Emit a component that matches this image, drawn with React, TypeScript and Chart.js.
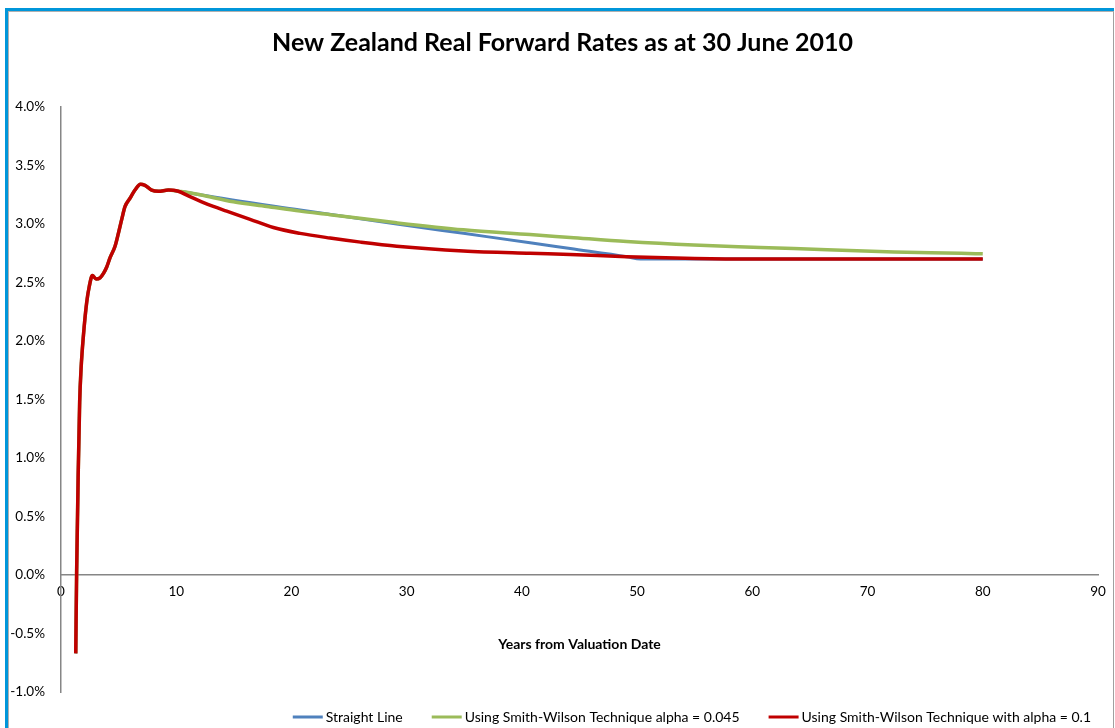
import { useEffect, useRef } from 'react';
import { Chart, registerables } from 'chart.js';

Chart.register(...registerables);

// Short end of the curve (years, % p.a.), common to all three methods
const shortEndYears = [1.28, 1.36, 1.5, 1.62, 1.74, 1.94, 2.23, 2.46, 2.72, 3.05, 3.39, 3.7, 3.96, 4.25, 4.69, 4.98, 5.27, 5.56, 5.99, 6.42, 6.9, 7.29, 7.87, 8.45, 9.32, 10.18];
const shortEndRates = [-0.67, 0.05, 0.9, 1.48, 1.76, 2.04, 2.33, 2.47, 2.56, 2.53, 2.54, 2.58, 2.63, 2.71, 2.81, 2.92, 3.04, 3.15, 3.22, 3.29, 3.34, 3.33, 3.29, 3.28, 3.29, 3.28];

// Straight line extrapolation to the ultimate forward rate
const straightYears = [11.0, 12.07, 20.75, 29.14, 34.92, 40.71, 44.2, 49.1, 50.3, 60, 70, 80];
const straightRates = [3.27, 3.25, 3.12, 3.0, 2.92, 2.84, 2.79, 2.72, 2.7, 2.7, 2.7, 2.7];

// Smith-Wilson, alpha = 0.045
const sw045Years = [11.0, 12.07, 14.96, 17.86, 20.75, 23.35, 29.14, 34.92, 40.71, 44.2, 49.1, 54.9, 60.7, 66.5, 72.3, 78.1, 80];
const sw045Rates = [3.27, 3.25, 3.19, 3.15, 3.11, 3.08, 3.01, 2.95, 2.91, 2.885, 2.85, 2.82, 2.8, 2.78, 2.76, 2.75, 2.745];

// Smith-Wilson, alpha = 0.1
const sw01Years = [11.05, 12.21, 13.22, 14.38, 16.41, 18.43, 20.75, 23.35, 26.0, 29.14, 34.92, 40.71, 44.2, 49.1, 55, 60, 70, 80];
const sw01Rates = [3.24, 3.19, 3.15, 3.11, 3.04, 2.97, 2.92, 2.88, 2.845, 2.81, 2.77, 2.75, 2.74, 2.72, 2.705, 2.7, 2.7, 2.7];

const seriesLabels = [
  'Straight Line',
  'Using Smith-Wilson Technique alpha = 0.045',
  'Using Smith-Wilson Technique with alpha = 0.1',
];
const seriesColors = ['#4F81BD', '#9BBB59', '#C00000'];

const chartTitle = 'New Zealand Real Forward Rates as at 30 June 2010';
const xAxisTitle = 'Years from Valuation Date';

const FONT = 'Lato, "Open Sans", sans-serif';

const toPoints = (xs: number[], ys: number[]) => xs.map((x, i) => ({ x, y: ys[i] }));
const withShortEnd = (xs: number[], ys: number[]) =>
  toPoints(shortEndYears.concat(xs), shortEndRates.concat(ys));

// Legend drawn as short coloured line segments followed by the series name
const lineLegend = {
  id: 'lineLegend',
  afterDraw(chart: any, _args: any, opts: any) {
    const { ctx } = chart;
    const items = chart.data.datasets.map((ds: any) => ({ text: ds.label, color: ds.borderColor }));
    ctx.save();
    ctx.font = `${opts.fontSize}px ${FONT}`;
    ctx.textBaseline = 'middle';
    ctx.textAlign = 'left';
    const widths = items.map((it: any) => opts.lineLength + opts.gap + ctx.measureText(it.text).width);
    const total = widths.reduce((a: number, b: number) => a + b, 0) + opts.spacing * (items.length - 1);
    let x = opts.right - total;
    items.forEach((it: any, i: number) => {
      ctx.strokeStyle = it.color;
      ctx.lineWidth = opts.lineWidth;
      ctx.beginPath();
      ctx.moveTo(x, opts.y);
      ctx.lineTo(x + opts.lineLength, opts.y);
      ctx.stroke();
      ctx.fillStyle = opts.color;
      ctx.fillText(it.text, x + opts.lineLength + opts.gap, opts.y);
      x += widths[i] + opts.spacing;
    });
    ctx.restore();
  },
};

export default function App() {
  const canvasRef = useRef<HTMLCanvasElement | null>(null);

  useEffect(() => {
    if (!canvasRef.current) return;
    const common = {
      pointRadius: 0,
      pointHoverRadius: 0,
      fill: false,
      cubicInterpolationMode: 'monotone' as const,
    };
    const chart = new Chart(canvasRef.current, {
      type: 'line',
      data: {
        datasets: [
          {
            ...common,
            label: seriesLabels[0],
            data: withShortEnd(straightYears, straightRates),
            borderColor: seriesColors[0],
            backgroundColor: seriesColors[0],
            borderWidth: 3,
            order: 3,
          },
          {
            ...common,
            label: seriesLabels[1],
            data: withShortEnd(sw045Years, sw045Rates),
            borderColor: seriesColors[1],
            backgroundColor: seriesColors[1],
            borderWidth: 3.5,
            order: 2,
          },
          {
            ...common,
            label: seriesLabels[2],
            data: withShortEnd(sw01Years, sw01Rates),
            borderColor: seriesColors[2],
            backgroundColor: seriesColors[2],
            borderWidth: 3.5,
            order: 1,
          },
        ],
      },
      options: {
        animation: false,
        responsive: false,
        devicePixelRatio: 1,
        layout: { padding: { left: 0, right: 0, top: 0, bottom: 36 } },
        scales: {
          x: {
            type: 'linear',
            position: { y: 0 },
            min: 0,
            max: 90,
            grid: { display: false, drawTicks: false },
            border: { display: true, color: '#868686', width: 1.5 },
            ticks: {
              stepSize: 10,
              padding: 9,
              color: '#000',
              font: { family: FONT, size: 13.5 },
            },
            title: {
              display: true,
              text: xAxisTitle,
              color: '#000',
              font: { family: FONT, size: 14, weight: 'bold' },
              padding: { top: 27, bottom: 0 },
            },
          },
          y: {
            type: 'linear',
            min: -1,
            max: 4,
            grid: { display: false, drawTicks: false },
            border: { display: true, color: '#868686', width: 1.5 },
            ticks: {
              stepSize: 0.5,
              padding: 16,
              color: '#000',
              font: { family: FONT, size: 13.5 },
              callback: (v: any) => Number(v).toFixed(1) + '%',
            },
            afterFit: (scale: any) => {
              scale.width = 61;
            },
          },
          // empty right-hand margin of the plot
          yMargin: {
            type: 'linear',
            position: 'right',
            grid: { display: false, drawTicks: false },
            border: { display: false },
            ticks: { display: false },
            afterFit: (scale: any) => {
              scale.width = 27;
            },
          },
        },
        plugins: {
          legend: { display: false },
          tooltip: { enabled: false },
          title: {
            display: true,
            text: chartTitle,
            color: '#000',
            font: { family: FONT, size: 25, weight: 'bold' },
            padding: { top: 28, bottom: 49 },
          },
          lineLegend: {
            right: 1091,
            y: 717,
            lineLength: 30,
            gap: 3,
            spacing: 29,
            lineWidth: 3,
            fontSize: 14,
            color: '#000',
          },
        } as any,
      },
      plugins: [lineLegend],
    });
    return () => chart.destroy();
  }, []);

  return (
    <div
      style={{
        position: 'absolute',
        left: 0,
        top: 0,
        width: 1115,
        height: 728,
        overflow: 'hidden',
        background: '#fff',
      }}
    >
      <div
        style={{
          position: 'absolute',
          left: 5,
          top: 8,
          width: 1106,
          height: 740,
          borderLeft: '3px solid #0096DA',
          borderTop: '3px solid #0096DA',
        }}
      >
        <div
          style={{
            position: 'absolute',
            left: 0,
            top: 0,
            right: 0,
            bottom: 0,
            borderLeft: '1px solid #B0B0B0',
            borderTop: '1px solid #B0B0B0',
            borderRight: '1.5px solid #A0A0A0',
          }}
        />
      </div>
      <canvas
        ref={canvasRef}
        width={1125}
        height={728}
        style={{ position: 'absolute', left: 0, top: 0, width: 1125, height: 728 }}
      />
    </div>
  );
}
